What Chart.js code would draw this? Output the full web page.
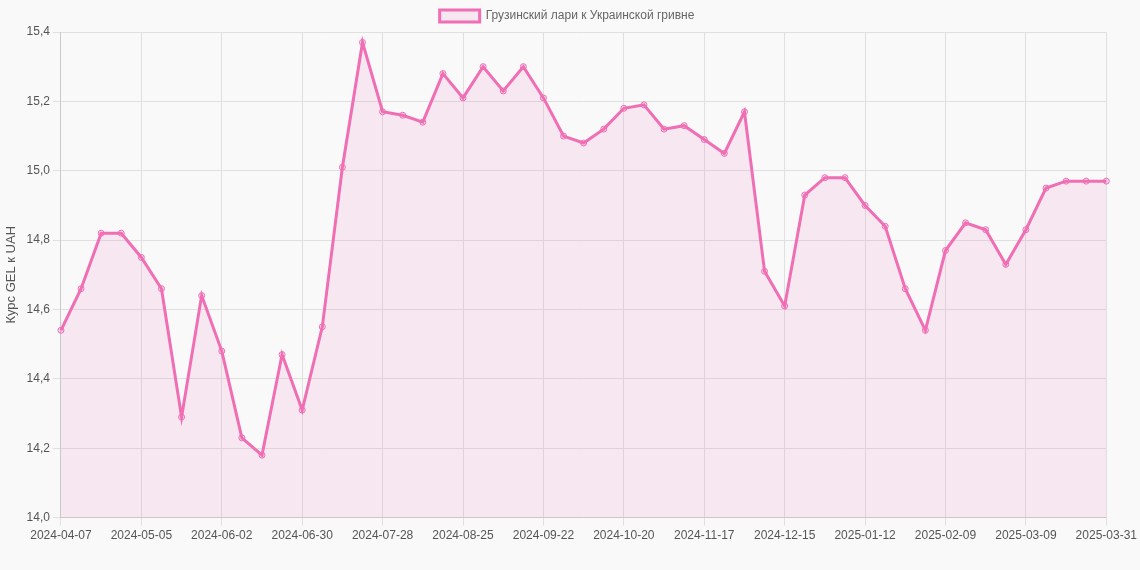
<!DOCTYPE html>
<html><head><meta charset="utf-8">
<script src="https://cdn.jsdelivr.net/npm/chart.js@4"></script>
<style>html,body{margin:0;background:#f9f9f9}#wrap{width:1140px;height:570px}</style>
</head><body><div id="wrap"><canvas id="c"></canvas></div>
<script>
const labels = ['2024-04-07','2024-04-14','2024-04-21','2024-04-28','2024-05-05','2024-05-12','2024-05-19','2024-05-26',
  '2024-06-02','2024-06-09','2024-06-16','2024-06-23','2024-06-30','2024-07-07','2024-07-14','2024-07-21',
  '2024-07-28','2024-08-04','2024-08-11','2024-08-18','2024-08-25','2024-09-01','2024-09-08','2024-09-15',
  '2024-09-22','2024-09-29','2024-10-06','2024-10-13','2024-10-20','2024-10-27','2024-11-03','2024-11-10',
  '2024-11-17','2024-11-24','2024-12-01','2024-12-08','2024-12-15','2024-12-22','2024-12-29','2025-01-05',
  '2025-01-12','2025-01-19','2025-01-26','2025-02-02','2025-02-09','2025-02-16','2025-02-23','2025-03-02',
  '2025-03-09','2025-03-16','2025-03-23','2025-03-30','2025-03-31'];
const rates = [14.54,14.66,14.82,14.82,14.75,14.66,14.29,14.64,14.48,14.23,14.18,14.47,14.31,14.55,15.01,15.37,
  15.17,15.16,15.14,15.28,15.21,15.30,15.23,15.30,15.21,15.10,15.08,15.12,15.18,15.19,15.12,15.13,
  15.09,15.05,15.17,14.71,14.61,14.93,14.98,14.98,14.90,14.84,14.66,14.54,14.77,14.85,14.83,14.73,
  14.83,14.95,14.97,14.97,14.97];

const fontFam = 'Liberation Sans, Arial, sans-serif';
new Chart(document.getElementById('c'), {
  type: 'line',
  data: { labels: labels, datasets: [{
    label: 'Грузинский лари к Украинской гривне',
    data: rates,
    borderColor: '#f06eb4',
    backgroundColor: 'rgba(240,110,180,0.12)',
    fill: true, borderWidth: 3, tension: 0,
    pointRadius: 3, pointBorderWidth: 1, pointBackgroundColor: 'rgba(240,110,180,0.2)'
  }]},
  options: {
    responsive: true, maintainAspectRatio: false, animation: false,
    layout: { padding: { right: 6, bottom: 24 } },
    plugins: { legend: { labels: { font: { family: fontFam, size: 12 }, color: '#666' } } },
    scales: {
      x: { grid: { color: '#e0e0e0' },
        ticks: { autoSkip: false, maxRotation: 0, color: '#555', font: { family: fontFam, size: 12 },
          callback: function(v, i) { return (i % 4 === 0 || i === labels.length - 1) ? labels[i] : null; } } },
      y: { min: 14.0, max: 15.4, grid: { color: '#e0e0e0' },
        title: { display: true, text: 'Курс GEL к UAH', color: '#555', font: { family: fontFam, size: 13 } },
        ticks: { stepSize: 0.2, color: '#555', font: { family: fontFam, size: 12 },
          callback: v => v.toFixed(1).replace('.', ',') } }
    }
  }
});
</script></body></html>
